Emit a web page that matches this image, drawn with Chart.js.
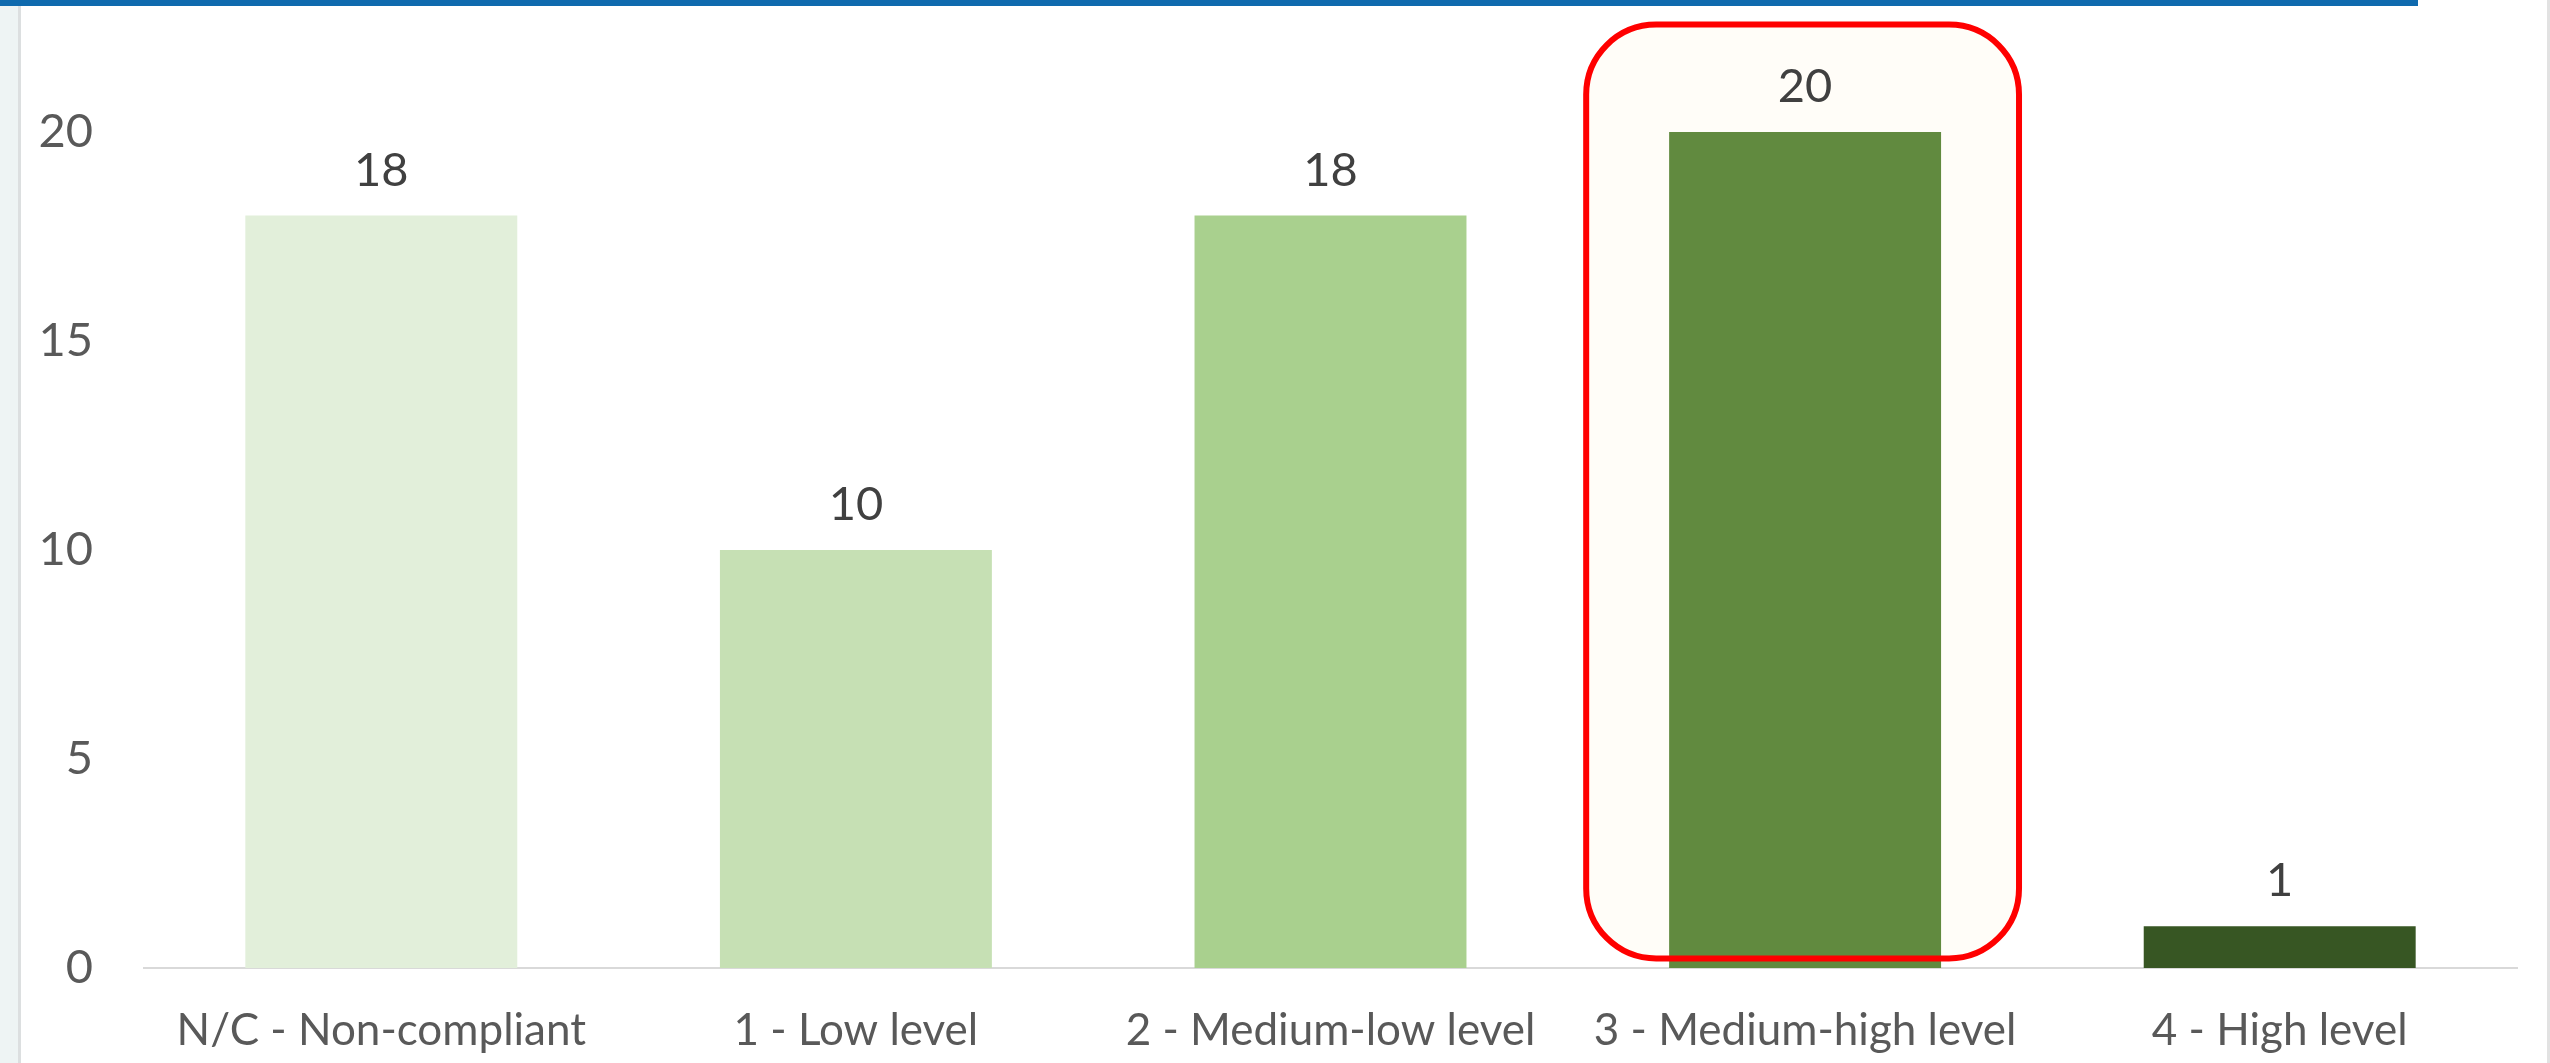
<!DOCTYPE html>
<html>
<head>
<meta charset="utf-8">
<script src="https://cdn.jsdelivr.net/npm/chart.js@4"></script>
<style>
  html, body { margin: 0; padding: 0; background: #ffffff; overflow: hidden; }
  #wrap { position: relative; width: 2550px; height: 1063px; }
  #leftStrip { position: absolute; left: 0; top: 0; width: 18px; height: 1063px; background: #eef4f4; border-right: 3px solid #dcdfe0; }
  #topBar { position: absolute; left: 0; top: 0; width: 2418px; height: 6px; background: #0f6aae; z-index: 2; }
  #rightEdge { position: absolute; left: 2547px; top: 0; width: 3px; height: 1063px; background: #e2e2e2; }
  canvas { position: absolute; left: 0; top: 0; z-index: 1; }
</style>
</head>
<body>
<div id="wrap">
  <div id="leftStrip"></div>
  <div id="rightEdge"></div>
  <div id="topBar"></div>
  <canvas id="c" width="2550" height="1063"></canvas>
</div>
<script>
// ---- data ----
const categories = ["N/C - Non-compliant", "1 - Low level", "2 - Medium-low level", "3 - Medium-high level", "4 - High level"];
const counts = [18, 10, 18, 20, 1];
const barColors = ["#E2EFDA", "#C6E0B4", "#A9D08E", "#618A3F", "#375623"];
const yTicks = [0, 5, 10, 15, 20];
const highlightCategory = "3 - Medium-high level";

const FONT = "Lato, 'Open Sans', sans-serif";

const valueLabels = {
  id: 'valueLabels',
  afterDatasetsDraw(chart) {
    const ctx = chart.ctx;
    const meta = chart.getDatasetMeta(0);
    ctx.save();
    ctx.font = "47px " + FONT;
    ctx.fillStyle = "#404040";
    ctx.textAlign = "center";
    ctx.textBaseline = "middle";
    meta.data.forEach((el, i) => {
      ctx.fillText(String(counts[i]), el.x, el.y - 45);
    });
    ctx.restore();
  }
};

function boxRect(chart) {
  const xs = chart.scales.x, ys = chart.scales.y;
  const idx = categories.indexOf(highlightCategory);
  const cw = xs.width / categories.length;
  const cx = xs.getPixelForValue(idx) - 2.5;
  const half = cw * 0.456;
  const top = ys.getPixelForValue(22.57);
  const bottom = ys.getPixelForValue(0.23);
  return { x: cx - half, y: top, w: half * 2, h: bottom - top, r: 70 };
}

const highlightBox = {
  id: 'highlightBox',
  beforeDatasetsDraw(chart) {
    const b = boxRect(chart);
    const ctx = chart.ctx;
    ctx.save();
    ctx.beginPath();
    ctx.roundRect(b.x, b.y, b.w, b.h, b.r);
    ctx.fillStyle = "#fffdf8";
    ctx.fill();
    ctx.restore();
  },
  afterDatasetsDraw(chart) {
    const b = boxRect(chart);
    const ctx = chart.ctx;
    ctx.save();
    ctx.beginPath();
    ctx.roundRect(b.x, b.y, b.w, b.h, b.r);
    ctx.strokeStyle = "#ff0000";
    ctx.lineWidth = 6;
    ctx.stroke();
    ctx.restore();
  }
};

new Chart(document.getElementById('c'), {
  type: 'bar',
  data: {
    labels: categories,
    datasets: [{
      data: counts,
      backgroundColor: barColors,
      borderWidth: 0,
      categoryPercentage: 1.0,
      barPercentage: 0.573
    }]
  },
  options: {
    responsive: false,
    devicePixelRatio: 1,
    animation: false,
    layout: { padding: { top: 132, right: 33, left: 0, bottom: 0 } },
    plugins: { legend: { display: false }, tooltip: { enabled: false }, title: { display: false } },
    scales: {
      x: {
        grid: { display: false, drawTicks: false },
        border: { display: true, color: "#d9d9d9", width: 2 },
        ticks: { color: "#595959", font: { family: FONT, size: 44 }, padding: 36, maxRotation: 0, autoSkip: false },
        afterFit(s) { s.height = 95; }
      },
      y: {
        min: 0, max: 20,
        afterBuildTicks(s) { s.ticks = yTicks.map(v => ({ value: v })); },
        grid: { display: false, drawTicks: false },
        border: { display: false },
        ticks: { color: "#595959", font: { family: FONT, size: 47 }, padding: 51 },
        afterFit(s) { s.width = 144; }
      }
    }
  },
  plugins: [highlightBox, valueLabels]
});
</script>
</body>
</html>
